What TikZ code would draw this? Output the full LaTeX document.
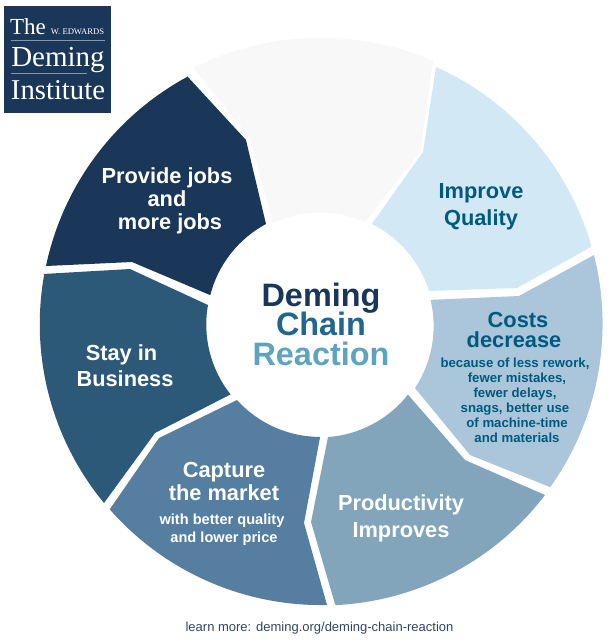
\documentclass[tikz,border=0pt]{standalone}
\usepackage{fontspec}
\setmainfont{Liberation Sans}
\newfontfamily\logofont{Liberation Serif}
\definecolor{cProvide}{HTML}{1A3659}
\definecolor{cGray}{HTML}{F8F8F8}
\definecolor{cImprove}{HTML}{D2E8F4}
\definecolor{cCosts}{HTML}{ABC5DA}
\definecolor{cProd}{HTML}{82A5BC}
\definecolor{cCapture}{HTML}{557EA0}
\definecolor{cStay}{HTML}{2D5978}
\definecolor{cTeal}{HTML}{005A7F}
\definecolor{cChain}{HTML}{20668D}
\definecolor{cReact}{HTML}{5EA3C2}
\definecolor{cFoot}{HTML}{33465C}
\definecolor{cRule}{HTML}{8896AB}
\newcommand\fs[1]{\fontsize{#1}{#1}\selectfont}
\tikzset{
  lbl/.style={anchor=base,inner sep=0pt,outer sep=0pt},
  big/.style={lbl,text=white,font=\fs{21.8}\bfseries},
  bigt/.style={lbl,text=cTeal,font=\fs{21.8}\bfseries},
  subw/.style={lbl,text=white,font=\fs{14.6}\bfseries},
  subt/.style={lbl,text=cTeal,font=\fs{13.2}\bfseries},
  hub/.style={lbl,font=\fs{32.4}\bfseries},
  logo/.style={lbl,text=white,font=\logofont\fs{#1}},
  seg/.style={fill=#1,draw=none},
  rulel/.style={draw=cRule,line width=0.7pt}
}
\begin{document}
\begin{tikzpicture}[x=1pt,y=-1pt]
\useasboundingbox (0,0) rectangle (613,641);
% segments: inner circle centre (320,325) r 112, outer centre (321,324) r 281
\fill[seg=cGray] (433,62) -- (420,152) -- (365,222)
  arc[start angle={atan2(103,45)},end angle={atan2(101,-47)},radius=112pt]
  -- (250,138) -- (193,68)
  arc[start angle={atan2(256,-128)},end angle={atan2(262,112)},radius=286pt] -- cycle;
\fill[seg=cProvide] (187,76) -- (246,140) -- (266,224)
  arc[start angle={atan2(101,-54)},end angle={atan2(28,-110)},radius=112pt]
  -- (132,262) -- (46,266)
  arc[start angle={atan2(58,-275)},end angle={atan2(248,-134)},radius=281pt] -- cycle;
\fill[seg=cImprove] (591,247) -- (517,288) -- (429,291)
  arc[start angle={atan2(34,109)},end angle={atan2(103,51)},radius=112pt]
  -- (423,152) -- (436,67)
  arc[start angle={atan2(257,115)},end angle={atan2(77,270)},radius=281pt] -- cycle;
\fill[seg=cCosts] (550,487) -- (470,455) -- (415,388)
  arc[start angle={atan2(-63,95)},end angle={atan2(27,112)},radius=112pt]
  -- (519,296) -- (594,255)
  arc[start angle={atan2(69,273)},end angle={atan2(-163,229)},radius=281pt] -- cycle;
\fill[seg=cProd] (335,604) -- (311,522) -- (328,437)
  arc[start angle={atan2(-112,8)},end angle={atan2(-71,90)},radius=112pt]
  -- (465,460) -- (545,495)
  arc[start angle={atan2(-171,224)},end angle={atan2(-280,14)},radius=281pt] -- cycle;
\fill[seg=cCapture] (110,509) -- (159,438) -- (237,400)
  arc[start angle={atan2(-75,-83)},end angle={atan2(-112,0)},radius=112pt]
  -- (304,523) -- (327,605)
  arc[start angle={atan2(-281,6)},end angle={atan2(-185,-211)},radius=281pt] -- cycle;
\fill[seg=cStay] (43,274) -- (130,269) -- (208,305)
  arc[start angle={atan2(20,-112)},end angle={360+atan2(-70,-88)},radius=112pt]
  -- (155,433) -- (104,503)
  arc[start angle={360+atan2(-179,-217)},end angle={atan2(50,-278)},radius=281pt] -- cycle;
% logo
\fill[cProvide] (4,6) rectangle (111,113);
\node[logo=23] (lThe) at (28,34) {The};
\node[logo=8.6] (lEdw) at (77.5,34) {W. EDWARDS};
\draw[rulel] (11,40) -- (105,40);
\node[logo=29] (lDem) at (58,66) {Deming};
\draw[rulel] (11,73) -- (87,73);
\node[logo=28.7] (lIns) at (58,99) {Institute};
% centre
\node[hub,text=cProvide] (hub1) at (321,306) {Deming};
\node[hub,text=cChain] (hub2) at (321,335) {Chain};
\node[hub,text=cReact] (hub3) at (321,365) {Reaction};
% labels
\node[big] (p1) at (167,183) {Provide jobs};
\node[big] (p2) at (167,206) {and};
\node[big] (p3) at (170,229) {more jobs};
\node[bigt] (i1) at (481,198) {Improve};
\node[bigt] (i2) at (481,225) {Quality};
\node[bigt] (c1) at (518,327) {Costs};
\node[bigt] (c2) at (514,347) {decrease};
\node[subt] (c3) at (515,367) {because of less rework,};
\node[subt] (c4) at (517,382) {fewer mistakes,};
\node[subt] (c5) at (515,397) {fewer delays,};
\node[subt] (c6) at (515,412) {snags, better use};
\node[subt] (c7) at (517,427) {of machine-time};
\node[subt] (c8) at (517,442) {and materials};
\node[big] (q1) at (401,510) {Productivity};
\node[big] (q2) at (401,537) {Improves};
\node[big] (m1) at (224,477) {Capture};
\node[big] (m2) at (224,500) {the market};
\node[subw] (m3) at (222,524) {with better quality};
\node[subw] (m4) at (224,542) {and lower price};
\node[big] (s1) at (121.5,360) {Stay in};
\node[big] (s2) at (125,386) {Business};
\node[lbl,text=cFoot,font=\fs{13}] (foot) at (319.5,631) {learn more: deming.org/deming-chain-reaction};
\end{tikzpicture}
\end{document}
